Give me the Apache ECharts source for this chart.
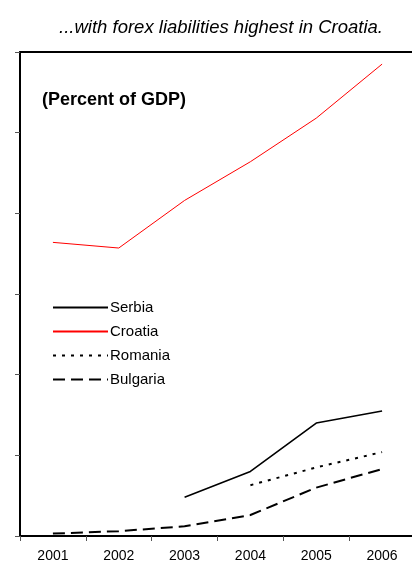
<!DOCTYPE html>
<html>
<head>
<meta charset="utf-8">
<script src="https://cdn.jsdelivr.net/npm/echarts@6/dist/echarts.min.js"></script>
<style>
html,body{margin:0;padding:0;background:#fff;}
#chart{width:412px;height:564px;}
</style>
</head>
<body>
<div id="chart"></div>
<script>
var years = ['2001', '2002', '2003', '2004', '2005', '2006'];
var serbia = [null, null, 4.8, 8.0, 14.0, 15.5];
var croatia = [36.4, 35.7, 41.6, 46.4, 51.8, 58.5];
var romania = [null, null, null, 6.3, 8.5, 10.4];
var bulgaria = [0.3, 0.6, 1.2, 2.6, 6.0, 8.3];

var chart = echarts.init(document.getElementById('chart'), null, {renderer: 'canvas'});
var font = '"Liberation Sans", Arial, sans-serif';
chart.setOption({
  animation: false,
  backgroundColor: '#fff',
  title: [
    {text: '...with forex liabilities highest in Croatia.', left: 216, top: 13, textAlign: 'center',
     textStyle: {fontFamily: font, fontSize: 18.5, fontStyle: 'italic', fontWeight: 'normal', color: '#000'}},
    {text: '(Percent of GDP)', left: 37, top: 86,
     textStyle: {fontFamily: font, fontSize: 18, fontWeight: 'bold', color: '#000'}}
  ],
  legend: {
    orient: 'vertical', left: 52, top: 300, padding: 0, itemWidth: 55, itemHeight: 14, itemGap: 9,
    itemStyle: {opacity: 0},
    textStyle: {fontFamily: font, fontSize: 15, color: '#000', padding: [0, 0, 0, -3]},
    data: ['Serbia', 'Croatia', 'Romania', 'Bulgaria']
  },
  grid: {left: 20, top: 52, width: 395, bottom: 28, outerBoundsMode: 'none', containLabel: false},
  xAxis: [{
    type: 'category', data: years, boundaryGap: true,
    axisLine: {lineStyle: {color: '#000', width: 2}},
    axisTick: {show: true, length: 5, lineStyle: {color: '#555', width: 1}},
    axisLabel: {fontFamily: font, fontSize: 14, color: '#000', margin: 13},
    splitLine: {show: false}
  }, {
    type: 'category', data: years, position: 'top',
    axisLine: {show: true, lineStyle: {color: '#000', width: 2}},
    axisTick: {show: false}, axisLabel: {show: false}, splitLine: {show: false}
  }],
  yAxis: {
    type: 'value', min: 0, max: 60, interval: 10,
    axisLine: {show: true, lineStyle: {color: '#000', width: 2}},
    axisTick: {show: true, length: 5, lineStyle: {color: '#555', width: 1}},
    axisLabel: {show: false},
    splitLine: {show: false}
  },
  series: [
    {name: 'Serbia', type: 'line', data: serbia, symbol: 'none', connectNulls: false,
     lineStyle: {color: '#000', width: 1.6}, itemStyle: {color: '#000'}},
    {name: 'Croatia', type: 'line', data: croatia, symbol: 'none',
     lineStyle: {color: '#ff0000', width: 1}, itemStyle: {color: '#ff0000'}},
    {name: 'Romania', type: 'line', data: romania, symbol: 'none',
     lineStyle: {color: '#000', width: 2, type: [3, 6]}, itemStyle: {color: '#000'}},
    {name: 'Bulgaria', type: 'line', data: bulgaria, symbol: 'none',
     lineStyle: {color: '#000', width: 2, type: [12, 6]}, itemStyle: {color: '#000'}}
  ]
});
</script>
</body>
</html>
